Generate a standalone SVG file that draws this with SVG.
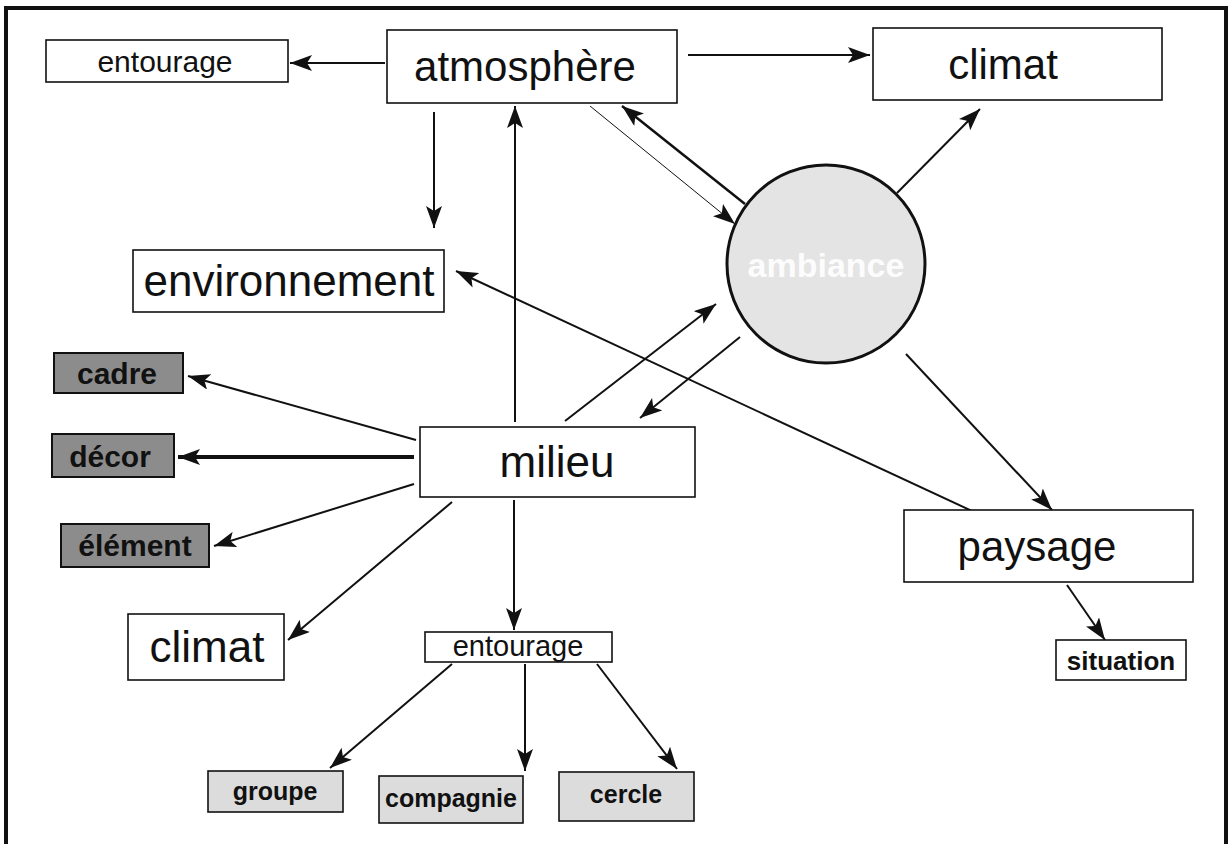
<svg xmlns="http://www.w3.org/2000/svg" width="1231" height="844" viewBox="0 0 1231 844">
<style>
.box{fill:#fff;stroke:#111;stroke-width:1.6}
.dark{fill:#8c8c8c;stroke:#111;stroke-width:2}
.light{fill:#dcdcdc;stroke:#111;stroke-width:1.6}
.t{font-family:"Liberation Sans",Arial,sans-serif;fill:#111;text-anchor:middle}
.b{font-family:"Liberation Sans",Arial,sans-serif;font-weight:bold;fill:#111;text-anchor:middle}
.c{stroke:#111;stroke-width:2;fill:none;marker-end:url(#ah)}
</style>
<defs>
<marker id="ah" markerUnits="userSpaceOnUse" markerWidth="24" markerHeight="16" refX="22" refY="8" orient="auto">
<path d="M0,0 L22,8 L0,16 L5,8 z" fill="#111"/>
</marker>
</defs>
<rect width="1231" height="844" fill="#fff"/>
<path d="M6,844 V8 H1226 V844" fill="none" stroke="#111" stroke-width="4"/>

<g id="connectors">
<line class="c" x1="385" y1="63" x2="290" y2="63"/>
<line class="c" x1="688" y1="55" x2="870" y2="55"/>
<line class="c" x1="434" y1="112" x2="434" y2="228"/>
<line class="c" x1="515" y1="422" x2="515" y2="106"/>
<line class="c" x1="590" y1="106" x2="735" y2="224" style="stroke-width:1"/>
<line class="c" x1="745" y1="204" x2="622" y2="106" style="stroke-width:2.5"/>
<line class="c" x1="897" y1="193" x2="980" y2="109"/>
<line class="c" x1="972" y1="511" x2="456" y2="271"/>
<line class="c" x1="565" y1="421" x2="716" y2="304"/>
<line class="c" x1="740" y1="337" x2="640" y2="418"/>
<line class="c" x1="906" y1="354" x2="1052" y2="510"/>
<line class="c" x1="1067" y1="585" x2="1105" y2="640"/>
<line class="c" x1="416" y1="440" x2="188" y2="376"/>
<line class="c" x1="414" y1="457" x2="178" y2="457" style="stroke-width:4"/>
<line class="c" x1="414" y1="484" x2="214" y2="546"/>
<line class="c" x1="452" y1="502" x2="288" y2="640"/>
<line class="c" x1="514" y1="500" x2="514" y2="630"/>
<line class="c" x1="452" y1="664" x2="330" y2="768"/>
<line class="c" x1="525" y1="664" x2="525" y2="771"/>
<line class="c" x1="597" y1="664" x2="677" y2="769"/>
</g>

<g id="entourage-top"><rect class="box" x="46" y="40" width="242" height="42"/><text class="t" x="165" y="72" font-size="30">entourage</text></g>
<g id="atmosphere"><rect class="box" x="387" y="30" width="290" height="73"/><text class="t" x="525" y="81" font-size="42">atmosphère</text></g>
<g id="climat-top"><rect class="box" x="873" y="28" width="289" height="72"/><text class="t" x="1003" y="79" font-size="42">climat</text></g>
<g id="environnement"><rect class="box" x="133" y="250" width="311" height="62"/><text class="t" x="289" y="296" font-size="44">environnement</text></g>
<g id="ambiance"><circle cx="826" cy="264" r="99" fill="#e4e4e4" stroke="#111" stroke-width="3"/><text class="b" x="826" y="277" font-size="34" style="fill:#fcfcfc">ambiance</text></g>
<g id="cadre"><rect class="dark" x="54" y="353" width="129" height="40"/><text class="b" x="117" y="384" font-size="30">cadre</text></g>
<g id="decor"><rect class="dark" x="52" y="434" width="122" height="43"/><text class="b" x="110" y="467" font-size="30">décor</text></g>
<g id="element"><rect class="dark" x="61" y="524" width="148" height="43"/><text class="b" x="135" y="556" font-size="30">élément</text></g>
<g id="milieu"><rect class="box" x="420" y="427" width="275" height="70"/><text class="t" x="557" y="477" font-size="44">milieu</text></g>
<g id="paysage"><rect class="box" x="904" y="510" width="289" height="72"/><text class="t" x="1037" y="561" font-size="42">paysage</text></g>
<g id="situation"><rect class="box" x="1056" y="640" width="130" height="40"/><text class="b" x="1121" y="670" font-size="26">situation</text></g>
<g id="climat-bottom"><rect class="box" x="128" y="614" width="156" height="66"/><text class="t" x="207" y="662" font-size="44">climat</text></g>
<g id="entourage-mid"><rect class="box" x="425" y="632" width="187" height="30"/><text class="t" x="518" y="656" font-size="29">entourage</text></g>
<g id="groupe"><rect class="light" x="208" y="771" width="135" height="41"/><text class="b" x="275" y="800" font-size="25">groupe</text></g>
<g id="compagnie"><rect class="light" x="379" y="776" width="144" height="47"/><text class="b" x="451" y="807" font-size="25">compagnie</text></g>
<g id="cercle"><rect class="light" x="559" y="772" width="135" height="49"/><text class="b" x="626" y="803" font-size="25">cercle</text></g>
</svg>
